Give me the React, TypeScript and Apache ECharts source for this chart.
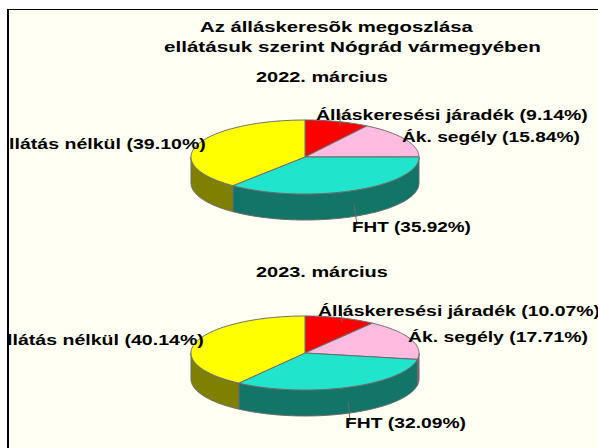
import React, { useEffect, useRef } from "react";
import * as echarts from "echarts";

const categories = ["Álláskeresési járadék", "Ák. segély", "FHT", "Ellátás nélkül"];
const values2022 = [9.14, 15.84, 35.92, 39.1];
const values2023 = [10.07, 17.71, 32.09, 40.14];
const labels2022 = ["9.14%", "15.84%", "35.92%", "39.10%"];
const labels2023 = ["10.07%", "17.71%", "32.09%", "40.14%"];
const titleLines = ["Az álláskeresõk megoszlása", "ellátásuk szerint Nógrád vármegyében"];
const subtitles = ["2022. március", "2023. március"];

const topColors = ["#ff0000", "#ffbbe0", "#20e5cc", "#ffff00"];
const sideColors = ["#800000", "#80606f", "#127568", "#808000"];
const edge = "#6a6a6a";
const bg = "#fffff3";
const OX = 7, OY = 9;
const FONT = 'bold 15px "Liberation Sans", Arial, sans-serif';
const TFONT = 'bold 15px "Liberation Sans", Arial, sans-serif';

type LabelPos = { x0: number; x1: number; base: number };
const pieLayouts = [
  {
    cx: 305, cy: 157, labels: [
      { x0: 316, x1: 588, base: 120 },
      { x0: 402, x1: 580, base: 142 },
      { x0: 352, x1: 471, base: 232 },
      { x0: -4, x1: 206, base: 149 },
    ] as LabelPos[],
    leaders: [[340, 113, 340, 126], [354, 204, 357, 225]],
  },
  {
    cx: 305, cy: 353, labels: [
      { x0: 318, x1: 600, base: 316 },
      { x0: 408, x1: 588, base: 342 },
      { x0: 345, x1: 466, base: 428 },
      { x0: -6, x1: 204, base: 345 },
    ] as LabelPos[],
    leaders: [[341, 307, 342, 322], [348, 401, 350, 421]],
  },
];
const RX = 114, RY = 37, DEPTH = 26;

const ctx = document.createElement("canvas").getContext("2d")!;
function fitScale(text: string, font: string, width: number) {
  ctx.font = font;
  return width / ctx.measureText(text).width;
}

function pt(cx: number, cy: number, a: number): number[] {
  return [cx - OX + RX * Math.sin(a), cy - OY - RY * Math.cos(a)];
}
function arc(cx: number, cy: number, a0: number, a1: number) {
  const n = Math.max(2, Math.ceil(Math.abs(a1 - a0) / 0.02));
  const out: number[][] = [];
  for (let i = 0; i <= n; i++) out.push(pt(cx, cy, a0 + ((a1 - a0) * i) / n));
  return out;
}

function pieSeries(values: number[], pctLabels: string[], layout: (typeof pieLayouts)[0]) {
  const total = values.reduce((s, v) => s + v, 0);
  return {
    type: "custom",
    coordinateSystem: "none",
    silent: true,
    data: values,
    renderItem(params: any) {
      const i = params.dataIndex;
      const before = values.slice(0, i).reduce((s, v) => s + v, 0);
      const a0 = (before / total) * 2 * Math.PI;
      const a1 = ((before + values[i]) / total) * 2 * Math.PI;
      const children: any[] = [];
      const s0 = Math.max(a0, Math.PI / 2);
      const s1 = Math.min(a1, (3 * Math.PI) / 2);
      if (s1 > s0) {
        const upper = arc(layout.cx, layout.cy, s0, s1);
        const lower = upper.map((p) => [p[0], p[1] + DEPTH]).reverse();
        children.push({
          type: "polygon",
          shape: { points: upper.concat(lower) },
          style: { fill: sideColors[i], stroke: edge, lineWidth: 1 },
          z2: 1,
        });
      }
      children.push({
        type: "polygon",
        shape: { points: [[layout.cx - OX, layout.cy - OY], ...arc(layout.cx, layout.cy, a0, a1)] },
        style: { fill: topColors[i], stroke: edge, lineWidth: 1 },
        z2: 2,
      });
      const text = `${categories[i]} (${pctLabels[i]})`;
      const pos = layout.labels[i];
      children.push({
        type: "text",
        x: pos.x0 - OX,
        y: pos.base - OY - 5,
        scaleX: fitScale(text, FONT, pos.x1 - pos.x0),
        style: { text, font: FONT, fill: "#000", textAlign: "left", textVerticalAlign: "middle" },
        z2: 10,
      });
      if (i === 0 || i === 2) {
        const l = layout.leaders[i === 0 ? 0 : 1];
        children.push({
          type: "line",
          shape: { x1: l[0] - OX, y1: l[1] - OY, x2: l[2] - OX, y2: l[3] - OY },
          style: { stroke: edge, lineWidth: 1 },
          z2: 9,
        });
      }
      return { type: "group", children };
    },
  };
}

function titleText(text: string, x0: number, x1: number, base: number) {
  return {
    type: "text",
    x: x0 - OX,
    y: base - OY - 5,
    scaleX: fitScale(text, TFONT, x1 - x0),
    style: { text, font: TFONT, fill: "#000", textAlign: "left", textVerticalAlign: "middle" },
    z: 20,
  };
}

export default function App() {
  const ref = useRef<HTMLDivElement>(null);
  useEffect(() => {
    document.documentElement.style.overflow = "hidden";
    const chart = echarts.init(ref.current!, undefined, { renderer: "svg" });
    chart.setOption({
      animation: false,
      backgroundColor: bg,
      series: [
        pieSeries(values2022, labels2022, pieLayouts[0]),
        pieSeries(values2023, labels2023, pieLayouts[1]),
      ],
      graphic: [
        titleText(titleLines[0], 200, 473, 32),
        titleText(titleLines[1], 164, 541, 52),
        titleText(subtitles[0], 256, 388, 82),
        titleText(subtitles[1], 256, 388, 277),
        { type: "rect", shape: { x: 0, y: 0, width: 2, height: 440 }, style: { fill: "#000" }, z: 30 },
        { type: "rect", shape: { x: 0, y: 0, width: 591, height: 1 }, style: { fill: "#000" }, z: 30 },
      ],
    });
    return () => chart.dispose();
  }, []);
  return (
    <div
      ref={ref}
      style={{ position: "absolute", left: OX, top: OY, width: 591, height: 439, overflow: "hidden" }}
    />
  );
}
